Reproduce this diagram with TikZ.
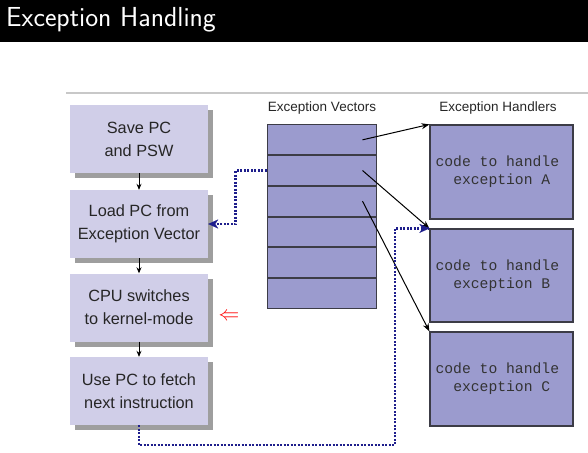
\documentclass[tikz,border=0pt]{standalone}
\usepackage{fontspec}
\setmainfont{Liberation Sans}
\setmonofont{Liberation Mono}
\usetikzlibrary{arrows.meta,calc,shadows}
\definecolor{lav}{RGB}{208,206,232}
\definecolor{vec}{RGB}{155,155,206}
\definecolor{navyd}{RGB}{30,30,140}
\definecolor{shad}{RGB}{158,158,158}
\definecolor{edgec}{RGB}{60,60,70}
\definecolor{rulec}{RGB}{200,200,200}
\begin{document}
\begin{tikzpicture}[x=1pt,y=-1pt,
  stepbox/.style={fill=lav, minimum width=138pt, minimum height=68pt, align=center,
    font=\fontsize{16.3}{23}\selectfont, inner sep=0pt, text=black!85,
    drop shadow={shadow xshift=5pt, shadow yshift=-5pt, fill=shad, opacity=1}},
  vrow/.style={draw=edgec, fill=vec, line width=1pt, minimum width=109pt, minimum height=29.67pt, inner sep=0pt},
  hbox/.style={draw=edgec, fill=vec, line width=1.2pt, minimum width=143pt, inner sep=0pt},
  codetext/.style={anchor=west, align=left, inner sep=0pt, font=\ttfamily\fontsize{14.7}{18}\selectfont, text=black!80},
  headlabel/.style={font=\fontsize{13.5}{16}\selectfont, text=black!85},
  flow/.style={-{Stealth[length=6pt,width=5pt]}, line width=0.8pt},
  vecarrow/.style={-{Stealth[length=8pt,width=6pt]}, line width=1pt},
  dots/.style={navyd, line width=2.6pt, dash pattern=on 2pt off 1.5pt},
  dottip/.style={-{Stealth[length=10pt,width=9pt,inset=3pt]}}
]
\useasboundingbox (0,0) rectangle (588,452);
% title bar
\fill[black] (0,0) rectangle (588,42);
\node[anchor=base west, inner sep=0pt, text=white, font=\sffamily\fontsize{27.5}{30}\selectfont] (title) at (6,27) {Exception Handling};
% top rule
\draw[rulec, line width=1.5pt] (66,93) -- (588,93);

% left steps
\node[stepbox] (b1) at (139,139) {Save PC\\and PSW};
\node[stepbox] (b2) at (139,224) {Load PC from\\Exception Vector};
\node[stepbox] (b3) at (139,307.5) {CPU switches\\to kernel-mode};
\node[stepbox] (b4) at (139,391) {Use PC to fetch\\next instruction};
\draw[flow] (b1.south) -- (b2.north);
\draw[flow] (b2.south) -- (b3.north);
\draw[flow] (b3.south) -- (b4.north);

\node[text=red, inner sep=0pt, font=\fontsize{20}{20}\selectfont] (ra) at (229,317) {$\Leftarrow$};

% vectors
\node[headlabel] (vl) at (322,108) {Exception Vectors};
\node[vrow] (v1) at (321.5,139.83) {};
\node[vrow, anchor=north] (v2) at (v1.south) {};
\node[vrow, anchor=north] (v3) at (v2.south) {};
\node[vrow, anchor=north] (v4) at (v3.south) {};
\node[vrow, anchor=north] (v5) at (v4.south) {};
\node[vrow, anchor=north] (v6) at (v5.south) {};

% handlers
\node[headlabel] (hl) at (498,108) {Exception Handlers};
\node[hbox, minimum height=94pt] (hA) at (501.5,172) {};
\node[hbox, minimum height=93pt] (hB) at (501.5,275.5) {};
\node[hbox, minimum height=94pt] (hC) at (501.5,379) {};
\node[codetext] (tA) at ($(hA.west)+(6,0)$) {code to handle\\\phantom{xx}exception A};
\node[codetext] (tB) at ($(hB.west)+(6,0)$) {code to handle\\\phantom{xx}exception B};
\node[codetext] (tC) at ($(hC.west)+(6,0)$) {code to handle\\\phantom{xx}exception C};

% vector -> handler arrows
\draw[vecarrow] ($(v1.east)+(-14,0)$) -- (hA.north west);
\draw[vecarrow] ($(v2.east)+(-14,0)$) -- (hB.north west);
\draw[vecarrow] ($(v3.east)+(-14,0)$) -- (hC.north west);

% dotted connectors
\draw[dots] (v2.west) -- ++(-31,0) |- (b2.east);
\draw[navyd, dottip, line width=0.1pt] ($(b2.east)+(6,0)$) -- (b2.east);
\coordinate (c1) at (395,445);
\draw[dots] (b4.south) |- (c1) |- (hB.north west);
\draw[navyd, dottip, line width=0.1pt] ($(hB.north west)+(-6,0)$) -- (hB.north west);
\end{tikzpicture}
\end{document}
